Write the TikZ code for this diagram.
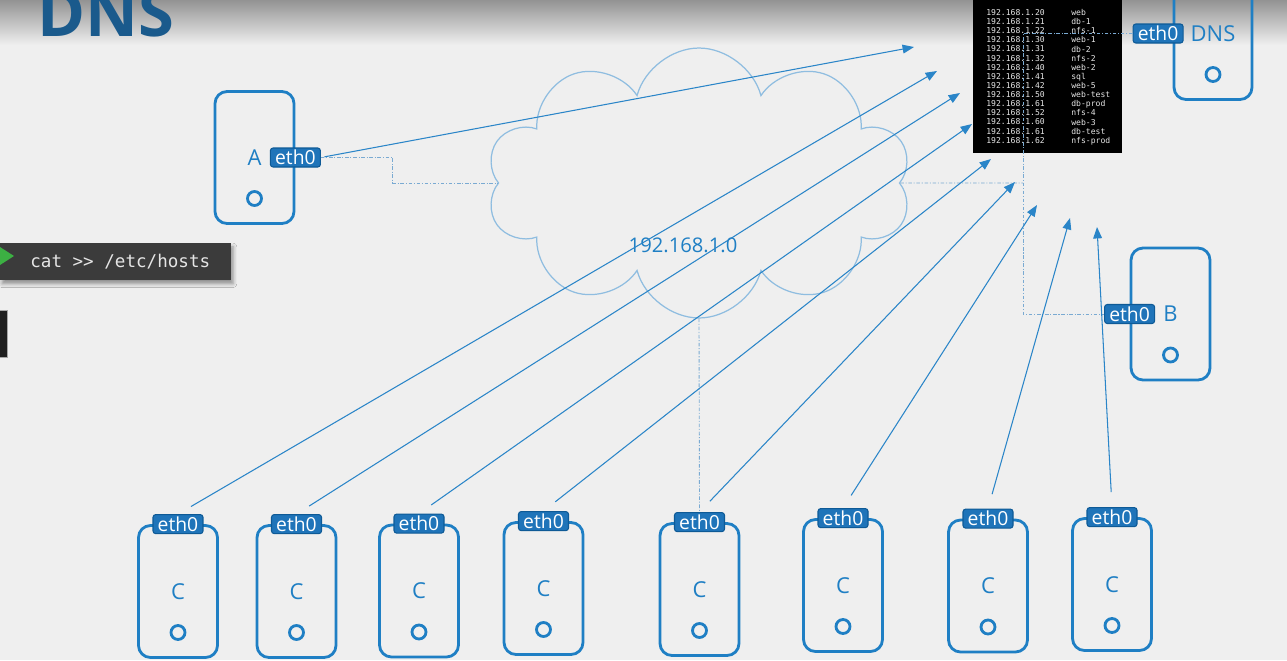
\documentclass[tikz,border=0pt]{standalone}
\usepackage{fontspec}
\setmainfont{Open Sans}
\setmonofont{DejaVu Sans Mono}
\usetikzlibrary{shapes.symbols,arrows.meta,calc,positioning,shadows.blur}

\definecolor{hostblue}{HTML}{1F7FC4}
\definecolor{tagblue}{HTML}{1F74B9}
\definecolor{tagedge}{HTML}{0E5A96}
\definecolor{linkblue}{HTML}{2A85C8}
\definecolor{cloudblue}{HTML}{8FBDE0}
\definecolor{busblue}{HTML}{7AAAD2}
\definecolor{titleblue}{HTML}{1A5A8C}
\definecolor{bgbase}{HTML}{EFEFEF}
\definecolor{bgtop}{HTML}{939393}
\definecolor{termgray}{HTML}{3B3B3B}
\definecolor{termgreen}{HTML}{3CB043}

\begin{document}
\begin{tikzpicture}[x=0.02cm,y=-0.02cm,
	host/.style={draw=hostblue, line width=1.6pt, rounded corners=0.24cm, minimum width=1.58cm, minimum height=2.64cm, text=hostblue, font=\fontsize{12.5}{13}\selectfont},
	ethtag/.style={fill=tagblue, draw=tagedge, line width=0.6pt, rounded corners=1.5pt, text=white, font=\fontsize{11}{11}\selectfont, minimum width=1cm, minimum height=0.38cm, inner sep=0pt},
	port/.style={circle, draw=hostblue, line width=1.6pt, minimum size=0.28cm, inner sep=0pt},
	link/.style={draw=linkblue, line width=0.6pt, -{Triangle[length=6.5pt,width=5pt]}, shorten <=0.3cm},
	bus/.style={draw=busblue, line width=0.5pt, dash pattern=on 2pt off 1pt on 0.6pt off 1pt},
	hostsfile/.style={anchor=north west, inner sep=0pt, align=left, text=gray!20, font=\ttfamily\fontsize{4.6}{5.2}\selectfont}]
	\useasboundingbox (0,0) rectangle (1287,660);
	\clip (0,0) rectangle (1287,660);
	% background
	\fill[bgbase] (0,0) rectangle (1287,660);
	\shade[top color=bgtop, bottom color=bgbase] (0,0) rectangle (1287,45);
	\node[anchor=base west, text=titleblue, font=\fontsize{37}{37}\selectfont\bfseries] (title) at (31,36) {DNS};

	% network
	\node[cloud, cloud puffs=10, cloud puff arc=150, aspect=1.57, draw=cloudblue, line width=0.7pt, minimum width=8.5cm, minimum height=5.4cm] (net) at (699,183) {};
	\node[text=hostblue, font=\fontsize{11.5}{12}\selectfont] (netlbl) at (683,245) {192.168.1.0};

	% hosts file
	\fill[black] (973,-5) rectangle (1122,153);
	\node[hostsfile] (ips) at (986,9)
		{192.168.1.20\\192.168.1.21\\192.168.1.22\\192.168.1.30\\192.168.1.31\\192.168.1.32\\192.168.1.40\\192.168.1.41\\192.168.1.42\\192.168.1.50\\192.168.1.61\\192.168.1.52\\192.168.1.60\\192.168.1.61\\192.168.1.62};
	\node[hostsfile] (names) at (1071,9)
		{web\\db-1\\nfs-1\\web-1\\db-2\\nfs-2\\web-2\\sql\\web-5\\web-test\\db-prod\\nfs-4\\web-3\\db-test\\nfs-prod};

	% terminal
	\node[fill=termgray, minimum width=4.62cm, minimum height=0.74cm, anchor=north west, inner sep=0pt, blur shadow={shadow xshift=1pt, shadow yshift=-2pt}] (term) at (0,243) {};
	\fill[termgreen] (0,247) -- (14,256) -- (0,265) -- cycle;
	\node[anchor=west, inner sep=0pt, text=gray!20, font=\ttfamily\fontsize{10}{10}\selectfont] (cmd) at (30,262) {cat >> /etc/hosts};
	\node[fill=black!88, draw=gray!70, line width=0.6pt, minimum width=0.18cm, minimum height=0.94cm, anchor=north east, inner sep=0pt] (side) at (8,310) {};

	% servers
	\node[host] (hA) at (254.5,157.5) {A};
	\node[port] (pA) at ($(hA)+(0,41)$) {};
	\node[ethtag] (eA) at (hA.east) {eth0};
	\node[host] (hB) at (1170.5,314) {B};
	\node[port] (pB) at ($(hB)+(0,41)$) {};
	\node[ethtag] (eB) at (hB.west) {eth0};
	\node[host, minimum width=1.56cm] (hD) at (1213,33.5) {DNS};
	\node[port] (pD) at ($(hD)+(0,41)$) {};
	\node[ethtag, anchor=east] (eD) at ($(hD.west)+(11,0)$) {eth0};
	\foreach \i/\x/\y in {1/178/591.5, 2/296.5/591.5, 3/419/591, 4/543.5/588.5, 5/699.5/589.5, 6/843/585.5, 7/988/586, 8/1112/584.5} {
		\node[host] (c\i) at (\x,\y) {C};
		\node[port] (p\i) at ($(c\i)+(0,41)$) {};
		\node[ethtag] (e\i) at (c\i.north) {eth0};
	}

	% wiring
	\coordinate (bus) at (1023,183);
	\draw[bus] (eA.east) -- ++(72,0) |- (net.west);
	\draw[bus] (net.east) -- (bus);
	\draw[bus] (eD.west) -| (bus) |- (eB.west);
	\draw[bus] (net.south) -- (e5.north);

	% lookups
	\foreach \n/\x/\y in {A/914/47, 1/937/71, 2/960/93, 3/972/124, 4/991/159, 5/1015/182, 6/1037/205, 7/1070/218, 8/1097/227}
		\coordinate (t\n) at (\x,\y);
	\draw[link, shorten <=2pt] (eA.east) -- (tA);
	\foreach \i in {1,...,8}
		\draw[link] (e\i.north) -- (t\i);
\end{tikzpicture}
\end{document}
